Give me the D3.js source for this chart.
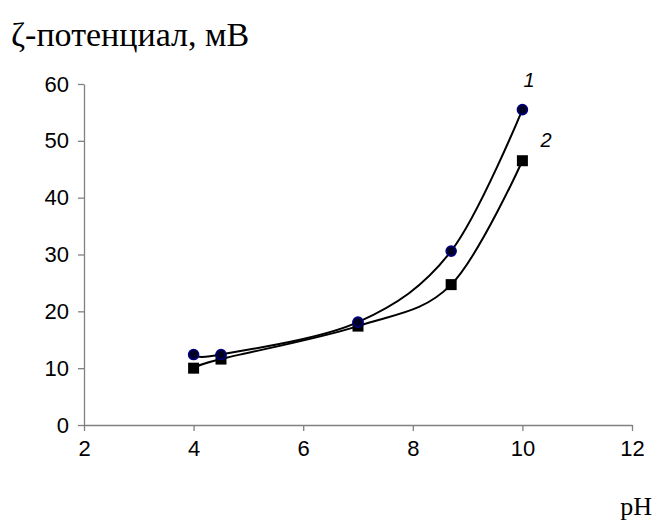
<!DOCTYPE html>
<html>
<head>
<meta charset="utf-8">
<script src="https://cdnjs.cloudflare.com/ajax/libs/d3/7.8.5/d3.min.js"></script>
<style>
  body { margin: 0; background: #fff; }
  svg { display: block; }
</style>
</head>
<body>
<div id="chart"></div>
<script>
/* data */
var phValues = [4, 4.5, 7, 8.7, 10];
var series1 = [12.4, 12.4, 18.1, 30.6, 55.5];   // curve 1, circles
var series2 = [10.0, 11.6, 17.4, 24.7, 46.5];   // curve 2, squares
var xTicks = [2, 4, 6, 8, 10, 12];
var yTicks = [0, 10, 20, 30, 40, 50, 60];
var seriesLabels = ["1", "2"];

var width = 658, height = 524;
var margin = { top: 84, right: 26, bottom: 99, left: 84 };

var svg = d3.select("#chart").append("svg")
    .attr("width", width)
    .attr("height", height);

var x = d3.scaleLinear().domain([2, 12]).range([margin.left, width - margin.right]);
var y = d3.scaleLinear().domain([0, 60]).range([height - margin.bottom, margin.top]);

var axisColor = "#808080";
var sans = "'Liberation Sans', Arial, sans-serif";
var serif = "'Liberation Serif', 'Times New Roman', serif";

/* axes */
var gx = svg.append("g")
    .attr("transform", "translate(0," + y(0) + ")")
    .call(d3.axisBottom(x).tickValues(xTicks).tickSize(6).tickSizeOuter(0).tickPadding(9));
var gy = svg.append("g")
    .attr("transform", "translate(" + x(2) + ",0)")
    .call(d3.axisLeft(y).tickValues(yTicks).tickSize(6).tickSizeOuter(0).tickPadding(9));

[gx, gy].forEach(function(g) {
  g.select(".domain").attr("stroke", axisColor).attr("stroke-width", 1.3);
  g.selectAll(".tick line").attr("stroke", axisColor).attr("stroke-width", 1.3);
  g.selectAll(".tick text")
    .attr("fill", "#000")
    .style("font-family", sans)
    .style("font-size", "22px");
});

/* smoothed curves */
var line = d3.line()
    .x(function(d) { return x(d[0]); })
    .y(function(d) { return y(d[1]); })
    .curve(d3.curveCatmullRom.alpha(0));

var pts1 = phValues.map(function(p, i) { return [p, series1[i]]; });
var pts2 = phValues.map(function(p, i) { return [p, series2[i]]; });

svg.append("path").datum(pts1)
    .attr("d", line).attr("fill", "none").attr("stroke", "#000").attr("stroke-width", 2);
svg.append("path").datum(pts2)
    .attr("d", line).attr("fill", "none").attr("stroke", "#000").attr("stroke-width", 2);

/* markers */
svg.selectAll(".sq").data(pts2).enter().append("rect")
    .attr("class", "sq")
    .attr("x", function(d) { return x(d[0]) - 5.5; })
    .attr("y", function(d) { return y(d[1]) - 5.5; })
    .attr("width", 11).attr("height", 11)
    .attr("fill", "#000");

svg.selectAll(".dot").data(pts1).enter().append("circle")
    .attr("class", "dot")
    .attr("cx", function(d) { return x(d[0]); })
    .attr("cy", function(d) { return y(d[1]); })
    .attr("r", 5)
    .attr("fill", "#000022")
    .attr("stroke", "#000080")
    .attr("stroke-width", 1.6);

/* curve labels */
svg.append("text")
    .attr("x", x(10) + 1).attr("y", y(55.5) - 23)
    .style("font-family", sans)
    .style("font-style", "italic").style("font-size", "20px")
    .text(seriesLabels[0]);
svg.append("text")
    .attr("x", x(10) + 18).attr("y", y(46.5) - 14)
    .style("font-family", sans)
    .style("font-style", "italic").style("font-size", "20px")
    .text(seriesLabels[1]);

/* axis titles */
svg.append("text")
    .attr("x", 11).attr("y", 46)
    .style("font-family", serif)
    .style("font-size", "34px")
    .text("ζ-потенциал, мВ");
svg.append("text")
    .attr("x", 652).attr("y", 515)
    .attr("text-anchor", "end")
    .style("font-family", serif)
    .style("font-size", "26px")
    .text("pH");
</script>
</body>
</html>
